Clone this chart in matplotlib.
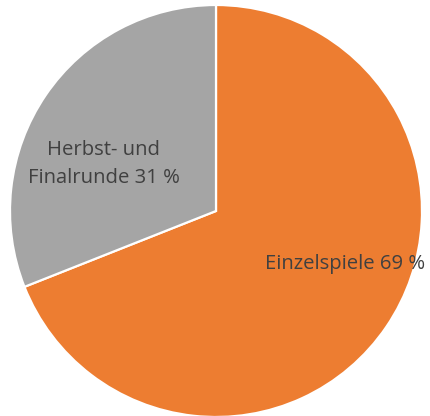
import matplotlib
matplotlib.use("Agg")
import matplotlib.pyplot as plt

categories = ["Einzelspiele", "Herbst- und\nFinalrunde"]
values = [69, 31]
colors = ["#ED7D31", "#A5A5A5"]
label_pos = [(0.626, -0.258), (-0.544, 0.228)]

plt.rcParams['font.family'] = ['Open Sans', 'DejaVu Sans']

fig = plt.figure(figsize=(4.30, 4.16), dpi=100)
cx, cy, r = 216, 211, 206
W, H = 430, 416
ax = fig.add_axes([(cx - r) / W, (H - cy - r) / H, 2 * r / W, 2 * r / H])
ax.pie(values, colors=colors, startangle=90, counterclock=False, radius=1,
       wedgeprops=dict(edgecolor="white", linewidth=1.6))
ax.set_xlim(-1, 1)
ax.set_ylim(-1, 1)
ax.set_aspect('equal')
ax.axis('off')
for cat, v, (x, y) in zip(categories, values, label_pos):
    ax.text(x, y, f"{cat} {v} %", ha='center', va='center', fontsize=14.6,
            color="#404040", linespacing=1.5)

fig.savefig("out.png", dpi=100)
